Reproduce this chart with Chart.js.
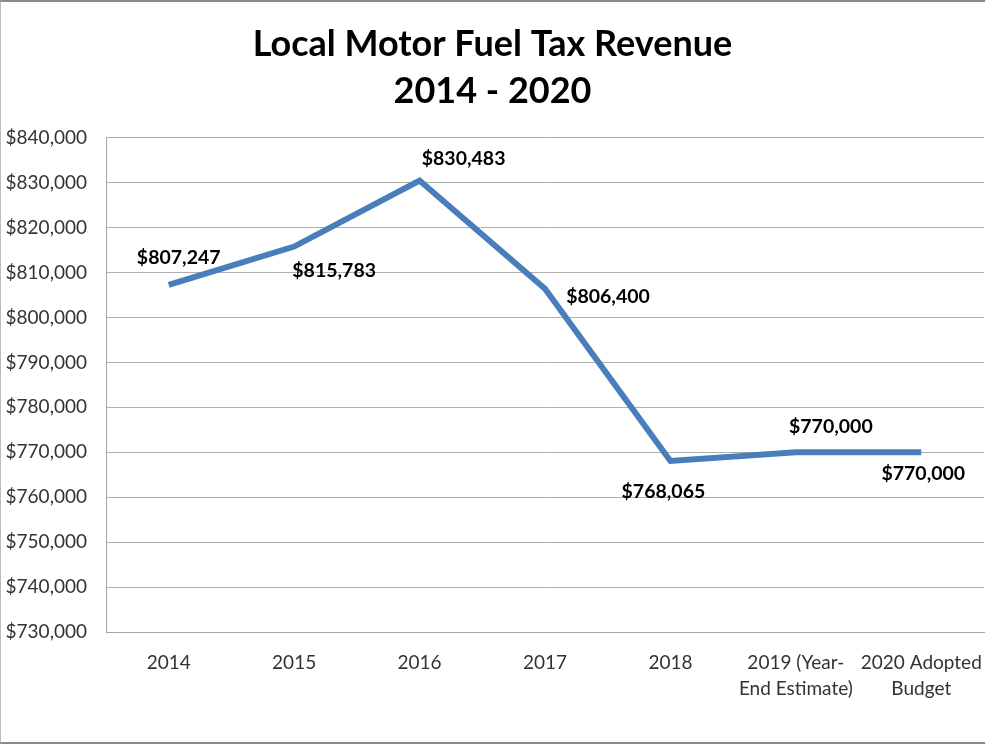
<!DOCTYPE html>
<html>
<head>
<meta charset="utf-8">
<title>Local Motor Fuel Tax Revenue</title>
<script src="https://cdn.jsdelivr.net/npm/chart.js@4.4.1/dist/chart.umd.min.js"></script>
<style>
  html, body { margin: 0; padding: 0; background: #fff; }
  #wrap {
    position: relative;
    width: 985px;
    height: 744px;
    box-sizing: border-box;
    border-top: 2px solid #8a8a8a;
    border-bottom: 2px solid #8a8a8a;
    border-left: 1px solid #bbb;
  }
  #grafico { display: block; }
</style>
</head>
<body>
<div id="wrap"><canvas id="grafico" width="984" height="740"></canvas></div>
<script>
// Categorias do eixo X (rótulos com quebra de linha)
const categorias = [
  '2014',
  '2015',
  '2016',
  '2017',
  '2018',
  ['2019 (Year-', 'End Estimate)'],
  ['2020 Adopted', 'Budget']
];

// Receita anual do imposto local sobre combustível
const receitas = [807247, 815783, 830483, 806400, 768065, 770000, 770000];

// Limites e passo do eixo Y
const eixoMin = 730000;
const eixoMax = 840000;
const eixoPasso = 10000;

const fonte = 'Lato, "Open Sans", sans-serif';

function formatarDolar(v) {
  return '$' + v.toLocaleString('en-US');
}

// Desenha o valor de cada ponto com um deslocamento próprio
const rotulosValores = {
  id: 'rotulosValores',
  afterDatasetsDraw(chart, args, opts) {
    const ctx = chart.ctx;
    const meta = chart.getDatasetMeta(0);
    const valores = chart.data.datasets[0].data;
    ctx.save();
    ctx.font = 'bold 19.5px ' + fonte;
    ctx.fillStyle = '#000';
    ctx.textAlign = 'center';
    ctx.textBaseline = 'middle';
    meta.data.forEach((pt, i) => {
      const [dx, dy] = opts.deslocamentos[i];
      ctx.fillText(formatarDolar(valores[i]), pt.x + dx, pt.y + dy);
    });
    ctx.restore();
  }
};

new Chart(document.getElementById('grafico'), {
  type: 'line',
  data: {
    labels: categorias,
    datasets: [{
      data: receitas,
      borderColor: '#4a7ebb',
      borderWidth: 6,
      pointRadius: 0,
      pointHoverRadius: 0,
      tension: 0,
      fill: false
    }]
  },
  options: {
    responsive: false,
    animation: false,
    layout: { padding: { top: 0, right: 1, bottom: 0, left: 0 } },
    scales: {
      x: {
        offset: true,
        grid: { display: false },
        border: { display: true, color: '#a6a6a6', width: 1 },
        ticks: {
          color: '#333',
          font: { family: fonte, size: 19, lineHeight: 1.35 },
          padding: 10,
          maxRotation: 0,
          autoSkip: false
        },
        afterFit(scale) {
          scale.height = 110;
          // o último rótulo pode encostar na borda direita
          scale.paddingLeft = 0;
          scale.paddingRight = 0;
        }
      },
      y: {
        min: eixoMin,
        max: eixoMax,
        grid: { color: '#b0b0b0', lineWidth: 1, drawTicks: false },
        border: { display: true, color: '#a6a6a6', width: 1 },
        ticks: {
          stepSize: eixoPasso,
          color: '#333',
          font: { family: fonte, size: 19 },
          padding: 19,
          callback: v => formatarDolar(v)
        },
        afterFit(scale) { scale.width = 105; }
      }
    },
    plugins: {
      legend: { display: false },
      tooltip: { enabled: false },
      title: {
        display: true,
        text: ['Local Motor Fuel Tax Revenue', '2014 - 2020'],
        color: '#000',
        font: { family: fonte, size: 36, weight: 'bold', lineHeight: 1.33 },
        padding: { top: 18, bottom: 22 }
      },
      rotulosValores: {
        deslocamentos: [
          [10, -27],
          [40, 24],
          [44, -22],
          [63, 8],
          [-7, 31],
          [35, -26],
          [2, 21]
        ]
      }
    }
  },
  plugins: [rotulosValores]
});
</script>
</body>
</html>
